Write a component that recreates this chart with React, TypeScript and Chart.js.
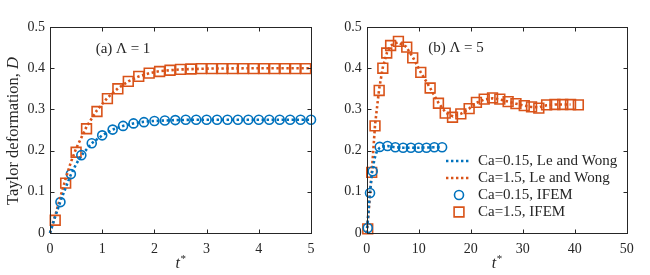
import React, { useEffect, useRef } from 'react';
import { Chart, registerables } from 'chart.js';
Chart.register(...registerables);

const BLUE = '#0072BD';
const ORANGE = '#D95319';
const AXIS = '#262626';
const SERIF = "'Liberation Serif', 'Times New Roman', serif";

// ---------- Panel (a): Lambda = 1 ----------
const aTimeLW015 = [0, 0.05, 0.1, 0.2, 0.3, 0.4, 0.5, 0.6, 0.8, 1.0, 1.2, 1.4, 1.6, 1.8, 2.0, 2.4, 2.8, 3.5, 5.0];
const aDefLW015 = [0, 0.02, 0.04, 0.077, 0.11, 0.142, 0.167, 0.188, 0.218, 0.237, 0.251, 0.26, 0.266, 0.27, 0.272, 0.274, 0.275, 0.275, 0.275];
const aTimeLW15 = [0, 0.1, 0.2, 0.3, 0.4, 0.5, 0.7, 0.9, 1.1, 1.3, 1.5, 1.7, 1.9, 2.1, 2.5, 3.0, 4.0, 5.0];
const aDefLW15 = [0, 0.042, 0.088, 0.132, 0.172, 0.205, 0.258, 0.298, 0.328, 0.351, 0.368, 0.38, 0.388, 0.393, 0.397, 0.399, 0.4, 0.4];
const aTimeIFEM015 = [0.2, 0.4, 0.6, 0.8, 1.0, 1.2, 1.4, 1.6, 1.8, 2.0, 2.2, 2.4, 2.6, 2.8, 3.0, 3.2, 3.4, 3.6, 3.8, 4.0, 4.2, 4.4, 4.6, 4.8, 5.0];
const aDefIFEM015 = [0.075, 0.143, 0.189, 0.218, 0.237, 0.251, 0.26, 0.266, 0.269, 0.272, 0.273, 0.274, 0.275, 0.275, 0.275, 0.275, 0.275, 0.275, 0.275, 0.275, 0.275, 0.275, 0.275, 0.275, 0.275];
const aTimeIFEM15 = [0.1, 0.3, 0.5, 0.7, 0.9, 1.1, 1.3, 1.5, 1.7, 1.9, 2.1, 2.3, 2.5, 2.7, 2.9, 3.1, 3.3, 3.5, 3.7, 3.9, 4.1, 4.3, 4.5, 4.7, 4.9];
const aDefIFEM15 = [0.031, 0.121, 0.196, 0.253, 0.295, 0.326, 0.35, 0.368, 0.38, 0.388, 0.392, 0.395, 0.397, 0.398, 0.399, 0.399, 0.399, 0.399, 0.399, 0.399, 0.399, 0.399, 0.399, 0.399, 0.399];

// ---------- Panel (b): Lambda = 5 ----------
const bTimeLW015 = [0, 0.3, 0.6, 1.0, 1.5, 2.0, 2.5, 3.0, 4.0, 5.5, 7.0, 10.0, 13.0, 14.5];
const bDefLW015 = [0, 0.045, 0.095, 0.145, 0.18, 0.2, 0.207, 0.21, 0.211, 0.208, 0.207, 0.207, 0.208, 0.208];
const bTimeLW15 = [0, 0.3, 0.6, 1.0, 1.6, 2.4, 3.1, 3.9, 4.6, 6.0, 7.6, 8.9, 10.4, 12.2, 13.8, 15.2, 16.6, 18.1, 19.7, 21.1, 22.6, 24.2, 25.6, 27.2, 28.7, 30.3, 31.7, 33.1, 34.6, 36.2, 37.7, 39.2];
const bDefLW15 = [0, 0.04, 0.09, 0.15, 0.262, 0.35, 0.402, 0.438, 0.455, 0.463, 0.452, 0.426, 0.39, 0.352, 0.316, 0.292, 0.283, 0.289, 0.302, 0.316, 0.324, 0.327, 0.324, 0.319, 0.314, 0.309, 0.306, 0.305, 0.31, 0.312, 0.312, 0.312];
const bTimeIFEM015 = [0.2, 0.64, 1.15, 2.5, 4.0, 5.5, 7.0, 8.5, 10.0, 11.5, 13.0, 14.5];
const bDefIFEM015 = [0.012, 0.097, 0.15, 0.209, 0.211, 0.208, 0.207, 0.207, 0.207, 0.207, 0.208, 0.208];
const bTimeIFEM15 = [0.2, 0.96, 1.6, 2.4, 3.1, 3.85, 4.6, 6.1, 7.7, 8.85, 10.4, 12.2, 13.8, 15.1, 16.5, 18.1, 19.7, 21.1, 22.6, 24.2, 25.6, 27.2, 28.7, 30.3, 31.7, 33.1, 34.6, 36.2, 37.7, 39.2, 40.7];
const bDefIFEM15 = [0.01, 0.147, 0.26, 0.346, 0.4, 0.437, 0.455, 0.465, 0.451, 0.425, 0.39, 0.352, 0.315, 0.291, 0.281, 0.289, 0.302, 0.317, 0.325, 0.328, 0.325, 0.319, 0.314, 0.309, 0.306, 0.303, 0.311, 0.312, 0.312, 0.312, 0.311];

const legendLabels = ['Ca=0.15, Le and Wong', 'Ca=1.5, Le and Wong', 'Ca=0.15, IFEM', 'Ca=1.5, IFEM'];
const yTicks = [0, 0.1, 0.2, 0.3, 0.4, 0.5];

const DOT_W = 2.6;
const DOT_DASH = [2.4, 2.6];

function pts(xs: number[], ys: number[]) {
  return xs.map((x, i) => ({ x, y: ys[i] }));
}

function makeDatasets(lw015T: number[], lw015D: number[], lw15T: number[], lw15D: number[], i015T: number[], i015D: number[], i15T: number[], i15D: number[]) {
  const line = (data: any, color: string, label: string) => ({
    label, data, showLine: true, borderColor: color, borderWidth: DOT_W, borderDash: DOT_DASH,
    pointRadius: 0, tension: 0, clip: false, fill: false,
  });
  const marker = (data: any, color: string, label: string, style: string, r: number) => ({
    label, data, showLine: false, borderColor: color, backgroundColor: 'rgba(0,0,0,0)',
    borderWidth: 1.6, pointStyle: style, pointRadius: r, clip: false,
  });
  return [
    line(pts(lw015T, lw015D), BLUE, legendLabels[0]),
    line(pts(lw15T, lw15D), ORANGE, legendLabels[1]),
    marker(pts(i015T, i015D), BLUE, legendLabels[2], 'circle', 4.5),
    marker(pts(i15T, i15D), ORANGE, legendLabels[3], 'rect', 6.9),
  ];
}

const framePlugin = {
  id: 'frame',
  afterDraw(chart: any) {
    const { ctx, chartArea: a, scales } = chart;
    const L = Math.round(a.left) + 0.5, R = Math.round(a.right) + 0.5;
    const T = Math.round(a.top) + 0.5, B = Math.round(a.bottom) + 0.5;
    ctx.save();
    ctx.strokeStyle = AXIS;
    ctx.lineWidth = 1;
    ctx.setLineDash([]);
    ctx.strokeRect(L, T, R - L, B - T);
    const len = 4;
    ctx.beginPath();
    scales.x.ticks.forEach((t: any) => {
      const px = Math.round(scales.x.getPixelForValue(t.value)) + 0.5;
      ctx.moveTo(px, B); ctx.lineTo(px, B - len);
      ctx.moveTo(px, T); ctx.lineTo(px, T + len);
    });
    scales.y.ticks.forEach((t: any) => {
      const py = Math.round(scales.y.getPixelForValue(t.value)) + 0.5;
      ctx.moveTo(L, py); ctx.lineTo(L + len, py);
      ctx.moveTo(R, py); ctx.lineTo(R - len, py);
    });
    ctx.stroke();

    // panel label
    const o = chart.options.plugins.panelText;
    ctx.fillStyle = AXIS;
    ctx.font = `15px ${SERIF}`;
    ctx.textBaseline = 'middle';
    ctx.textAlign = 'center';
    ctx.fillText(o.label, o.lx, o.ly);

    // x title t*
    ctx.textAlign = 'left';
    ctx.font = `italic 16px ${SERIF}`;
    const tw = ctx.measureText('t').width;
    ctx.font = `11px ${SERIF}`;
    const sw = ctx.measureText('*').width;
    const cx = (a.left + a.right) / 2;
    const x0 = cx - (tw + sw) / 2;
    ctx.font = `italic 16px ${SERIF}`;
    ctx.fillText('t', x0, 264);
    ctx.font = `11px ${SERIF}`;
    ctx.fillText('*', x0 + tw + 0.5, 259);

    if (o.ylabel) {
      ctx.save();
      ctx.translate(14, 131);
      ctx.rotate(-Math.PI / 2);
      ctx.font = `16.5px ${SERIF}`;
      const p1 = 'Taylor deformation, ';
      const w1 = ctx.measureText(p1).width;
      ctx.font = `italic 16.5px ${SERIF}`;
      const w2 = ctx.measureText('D').width;
      const start = -(w1 + w2) / 2;
      ctx.font = `16.5px ${SERIF}`;
      ctx.fillText(p1, start, 0);
      ctx.font = `italic 16.5px ${SERIF}`;
      ctx.fillText('D', start + w1, 0);
      ctx.restore();
    }

    if (o.legend) {
      const rows = [161, 178, 195, 212];
      ctx.font = `15px ${SERIF}`;
      chart.data.datasets.forEach((ds: any, i: number) => {
        const y = rows[i];
        ctx.strokeStyle = ds.borderColor;
        if (ds.showLine) {
          ctx.lineWidth = DOT_W;
          ctx.setLineDash(DOT_DASH);
          ctx.beginPath();
          ctx.moveTo(121, y); ctx.lineTo(146, y);
          ctx.stroke();
          ctx.setLineDash([]);
        } else {
          ctx.lineWidth = 1.6;
          ctx.beginPath();
          if (ds.pointStyle === 'circle') ctx.arc(134, y, 4.5, 0, Math.PI * 2);
          else ctx.rect(134 - 4.9, y - 4.9, 9.8, 9.8);
          ctx.stroke();
        }
        ctx.fillStyle = AXIS;
        ctx.fillText(ds.label, 153, y);
      });
    }
    ctx.restore();
  },
};

function makeConfig(datasets: any[], xMax: number, xStep: number, yWidth: number, padRight: number, panel: any) {
  return {
    type: 'scatter',
    data: { datasets },
    plugins: [framePlugin],
    options: {
      responsive: false,
      animation: false,
      events: [],
      layout: { padding: { top: 27, right: padRight, left: 0, bottom: 0 } },
      plugins: { legend: { display: false }, tooltip: { enabled: false }, panelText: panel },
      scales: {
        x: {
          type: 'linear', min: 0, max: xMax,
          grid: { display: false, drawTicks: false },
          border: { display: false },
          afterFit: (s: any) => { s.height = 42; },
          ticks: {
            stepSize: xStep, autoSkip: false, maxRotation: 0, padding: 8, color: AXIS,
            font: { family: SERIF, size: 14 },
            callback: (v: any) => String(v),
          },
        },
        y: {
          type: 'linear', min: 0, max: 0.5,
          grid: { display: false, drawTicks: false },
          border: { display: false },
          afterFit: (s: any) => { s.width = yWidth; },
          afterBuildTicks: (s: any) => { s.ticks = yTicks.map((v) => ({ value: v })); },
          ticks: {
            autoSkip: false, padding: 5, color: AXIS,
            font: { family: SERIF, size: 14 },
            callback: (v: any) => (v === 0 ? '0' : Number(v).toFixed(1)),
          },
        },
      },
    },
  };
}

function Panel({ config, left }: { config: any; left: number }) {
  const ref = useRef<HTMLCanvasElement>(null);
  useEffect(() => {
    const chart = new Chart(ref.current as HTMLCanvasElement, config);
    return () => chart.destroy();
  }, []);
  return (
    <canvas ref={ref} width={325} height={275}
      style={{ position: 'absolute', left, top: 0, width: 325, height: 275, display: 'block' }} />
  );
}

export default function App() {
  const cfgA = makeConfig(
    makeDatasets(aTimeLW015, aDefLW015, aTimeLW15, aDefLW15, aTimeIFEM015, aDefIFEM015, aTimeIFEM15, aDefIFEM15),
    5, 1, 50, 14, { label: '(a) Λ = 1', lx: 123, ly: 49, ylabel: true, legend: false });
  const cfgB = makeConfig(
    makeDatasets(bTimeLW015, bDefLW015, bTimeLW15, bDefLW15, bTimeIFEM015, bDefIFEM015, bTimeIFEM15, bDefIFEM15),
    50, 10, 41.7, 23.3, { label: '(b) Λ = 5', lx: 131, ly: 48, ylabel: false, legend: true });
  return (
    <div style={{ position: 'fixed', left: 0, top: 0, width: 650, height: 275, background: '#fff' }}>
      <Panel config={cfgA} left={0} />
      <Panel config={cfgB} left={325} />
    </div>
  );
}
